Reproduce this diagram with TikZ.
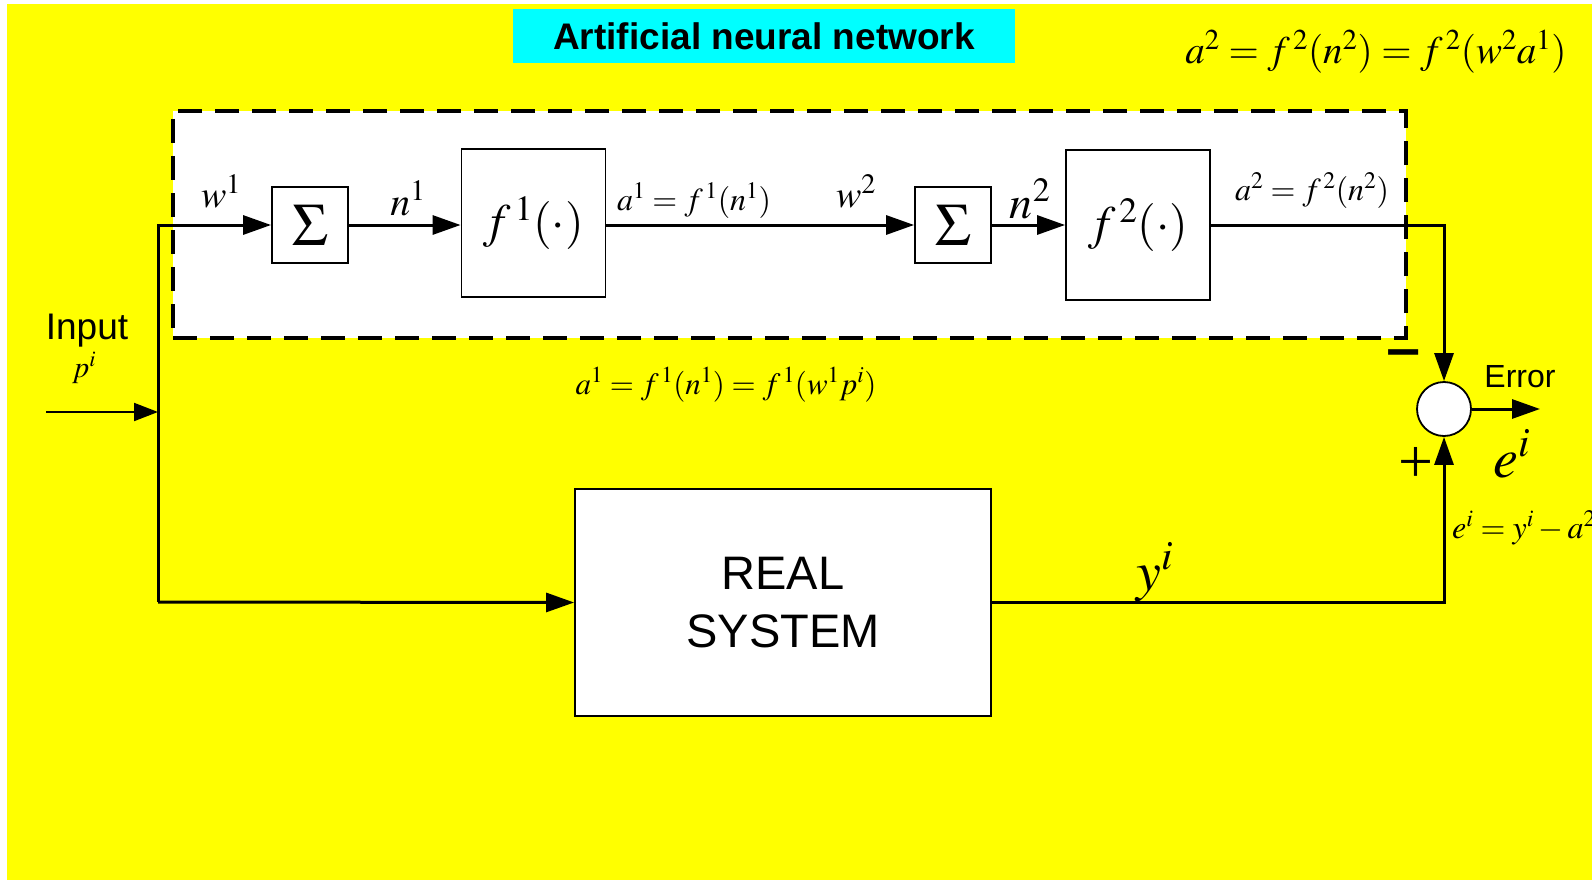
\documentclass[tikz,border=0pt]{standalone}
\usepackage{mathptmx}
\usepackage{fontspec}
\setmainfont{Liberation Serif}
\newfontfamily\arialf{Liberation Sans}
\newfontfamily\djvf{DejaVu Sans}
\usetikzlibrary{arrows.meta}
\definecolor{bgyellow}{RGB}{255,255,0}
\definecolor{titlecyan}{RGB}{0,255,255}
\newcommand{\fs}[1]{\fontsize{#1}{#1}\selectfont}
\tikzset{
  blockbox/.style={draw=black, fill=white, line width=1.8pt, inner sep=0pt},
  sig/.style={line width=3pt, -{Triangle[length=28pt,width=19pt]}},
  lbl/.style={inner sep=0pt, anchor=base},
}
\begin{document}
\begin{tikzpicture}[x=1pt,y=-1pt]
\useasboundingbox (0,0) rectangle (1592,880);
\fill[bgyellow] (7,4) rectangle (1592,880);
% title
\node[fill=titlecyan, minimum width=502pt, minimum height=54pt, inner sep=0pt] (title) at (764,36)
  {\arialf\bfseries\fs{37}Artificial neural network};
% top right formula
\node[lbl] (topf) at (1376,64) {\fs{39}$a^{2}=f^{\,2}(n^{2})=f^{\,2}(w^{2}a^{1})$};
% dashed network box
\node[draw=black, fill=white, line width=3.5pt, dash pattern=on 24pt off 13pt,
      minimum width=1233pt, minimum height=227pt, inner sep=0pt] (nnbox) at (789.5,224.5) {};
% blocks
\node[blockbox, minimum width=76pt, minimum height=76pt] (s1) at (310,225) {\fs{60}$\Sigma$};
\node[blockbox, minimum width=144pt, minimum height=148pt] (f1) at (533.5,223) {\fs{48}$f^{\,1}(\cdot)$};
\node[blockbox, minimum width=76pt, minimum height=76pt] (s2) at (953,225) {\fs{60}$\Sigma$};
\node[blockbox, minimum width=144pt, minimum height=150pt] (f2) at (1138,225) {\fs{48}$f^{\,2}(\cdot)$};
\node[blockbox, minimum width=416pt, minimum height=227pt, align=center,
      font=\arialf\fontsize{47}{58}\selectfont] (rs) at (783,602.5) {REAL\\SYSTEM};
\node[draw=black, fill=white, line width=1.8pt, circle, minimum size=54pt, inner sep=0pt] (sum) at (1444,409) {};
% coordinates
\coordinate (inStart) at (46,412);
\coordinate (inJoin) at (158,412);
\coordinate (cBL) at (158,602);
\coordinate (errEnd) at (1540,409);
% connectors
\draw[sig] (cBL) |- (s1.west);
\draw[sig] (cBL) -- (rs.west);
\draw[line width=2pt, -{Triangle[length=24pt,width=18pt]}] (inStart) -- (inJoin);
\draw[sig] (s1.east) -- (f1.west |- s1.east);
\draw[sig] (f1.east |- s1.east) -- (s2.west);
\draw[sig] (s2.east) -- (f2.west |- s2.east);
\draw[sig] (f2.east |- s2.east) -| (sum.north);
\draw[sig] (rs.east) -| (sum.south);
\draw[sig] (sum.east) -- (errEnd);
% labels
\node[lbl] (lw1) at (221,207) {\fs{38}$w^{1}$};
\node[lbl] (ln1) at (408,215) {\fs{40}$n^{1}$};
\node[lbl] (la1) at (694,210) {\fs{32}$a^{1}=f^{\,1}(n^{1})$};
\node[lbl] (lw2) at (856,207) {\fs{38}$w^{2}$};
\node[lbl] (ln2) at (1030,218) {\fs{46}$n^{2}$};
\node[lbl] (la2) at (1312,200) {\fs{32}$a^{2}=f^{\,2}(n^{2})$};
\node[lbl] (midf) at (726,394) {\fs{31}$a^{1}=f^{\,1}(n^{1})=f^{\,1}(w^{1}p^{i})$};
\node[lbl] (linput) at (87,339) {\arialf\fs{37}Input};
\node[lbl] (lp) at (84,377) {\fs{30}$p^{i}$};
\node[lbl] (lerr) at (1520,387) {\arialf\fs{32}Error};
\node[lbl] (lei) at (1512,477) {\fs{56}$e^{i}$};
\node[inner sep=0pt, font=\djvf\bfseries\fontsize{48}{48}\selectfont] (lminus) at (1404,359) {−};
\node[inner sep=0pt, font=\fontsize{62}{62}\selectfont] (lplus) at (1416,465) {+};
\node[lbl, anchor=base west] (leq) at (1452,538) {\fs{32}$e^{i}=y^{i}-a^{2}$};
\node[lbl] (lyi) at (1155,590) {\fs{56}$y^{i}$};
\end{tikzpicture}
\end{document}
